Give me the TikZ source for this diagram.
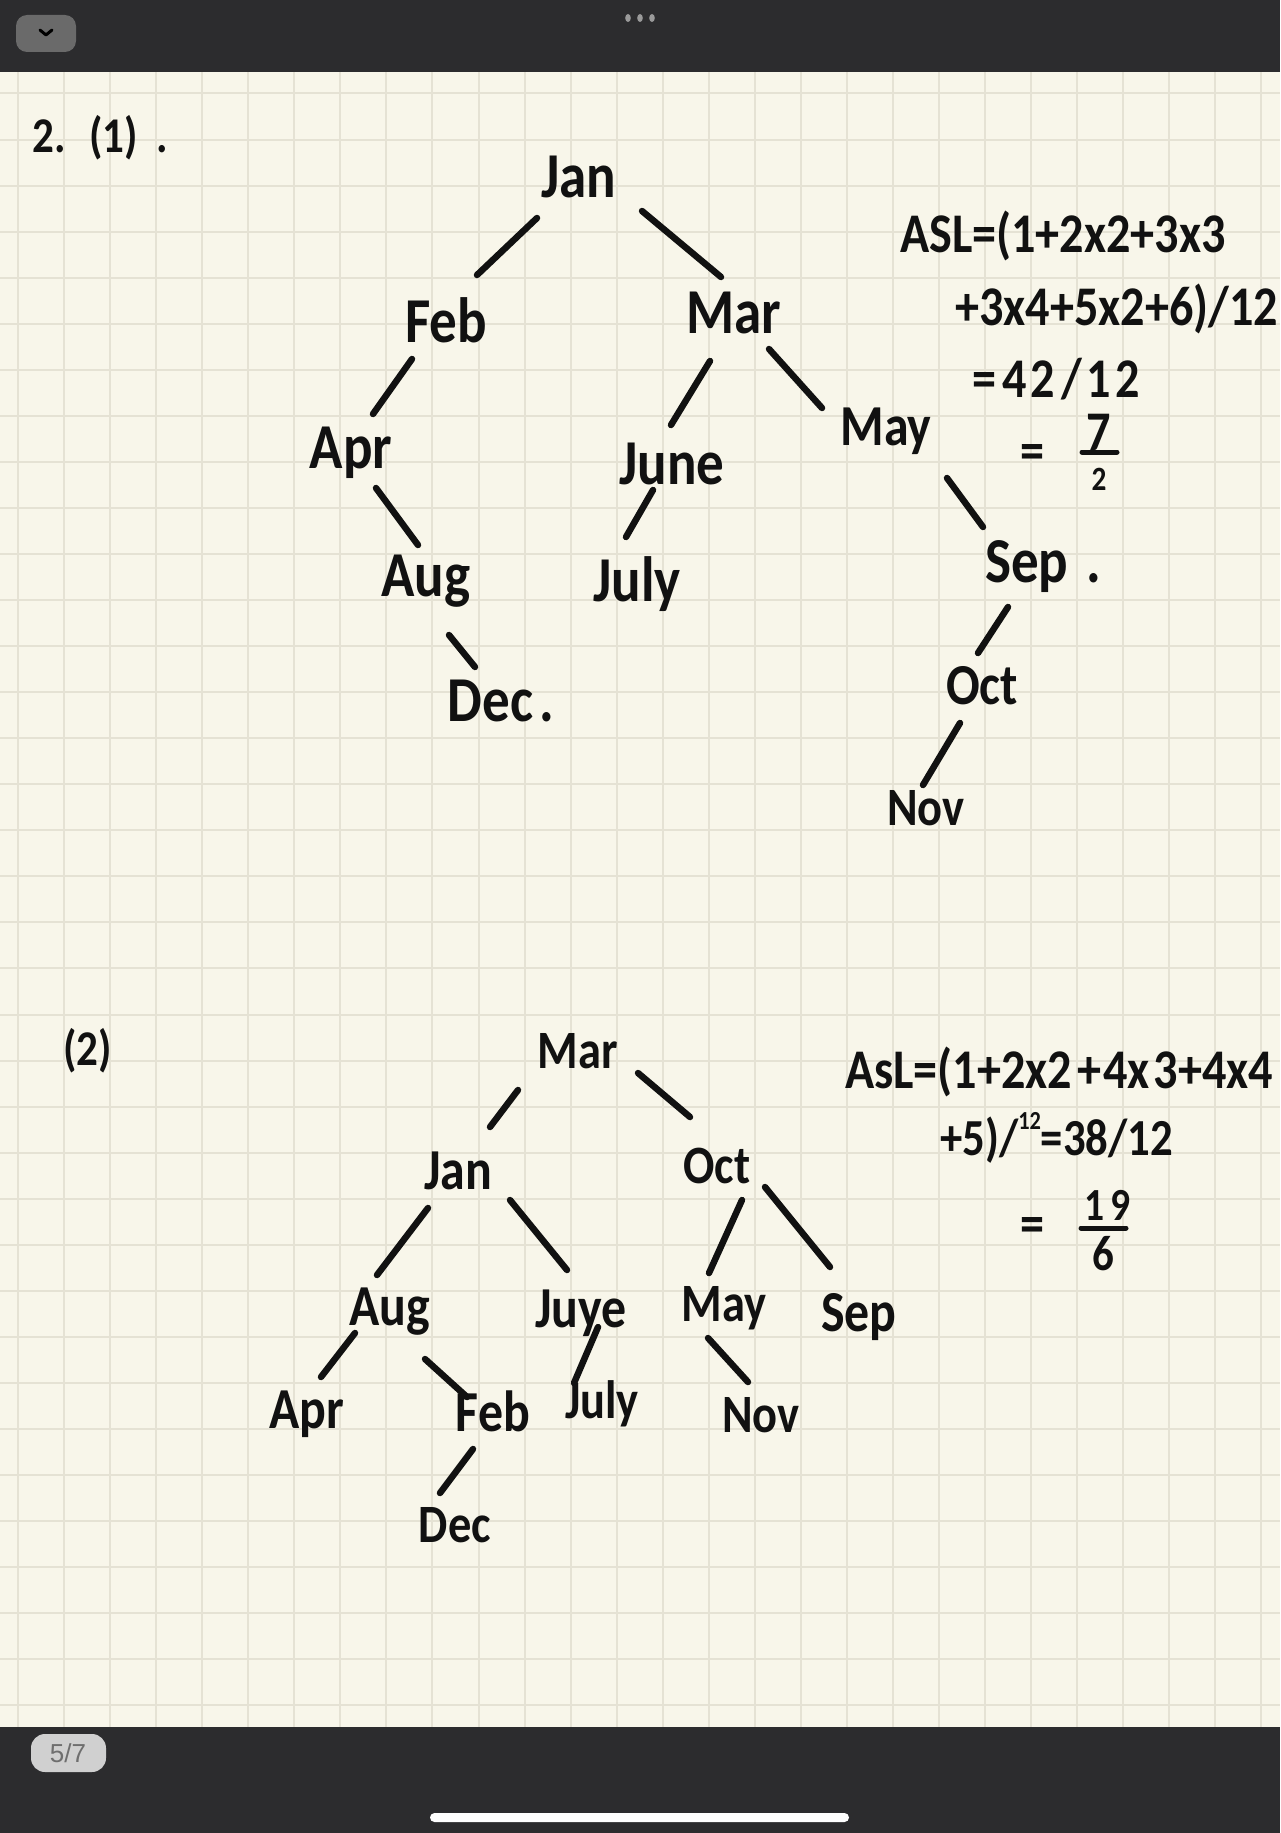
\documentclass[tikz,border=0pt]{standalone}
\usepackage{fontspec}
\usepackage{graphicx}
\usetikzlibrary{calc}
\newfontfamily\hwfont{Carlito}[FakeStretch=0.86]
\newfontfamily\uifont{Liberation Sans}
\definecolor{paper}{HTML}{F8F6EA}
\definecolor{gridc}{HTML}{E5E2D4}
\definecolor{barc}{HTML}{2C2C2E}
\definecolor{btnc}{HTML}{6A6A6A}
\definecolor{dotc}{HTML}{9A9A9A}
\definecolor{pillc}{HTML}{D0D0D0}
\definecolor{pilltext}{HTML}{6E6E6E}
\definecolor{ink}{HTML}{111111}
\tikzset{
  gridline/.style={draw=gridc, line width=2pt},
  lab/.style={anchor=base, inner sep=0pt, text=ink, font=\hwfont\bfseries\fontsize{64}{64}\selectfont},
  labb/.style={anchor=base, inner sep=0pt, text=ink, font=\hwfont\bfseries\fontsize{58}{58}\selectfont},
  labs/.style={anchor=base, inner sep=0pt, text=ink, font=\hwfont\bfseries\fontsize{54}{54}\selectfont},
  asl/.style={anchor=base west, inner sep=0pt, text=ink, font=\hwfont\bfseries\fontsize{56}{56}\selectfont},
  edge/.style={draw=ink, line width=6.5pt, line cap=round},
}
\newcommand{\edg}[4]{\draw[edge] ($(#1.base)+(#2)$) -- ($(#3.base)+(#4)$);}
\begin{document}
\begin{tikzpicture}[x=1pt,y=-1pt]
\useasboundingbox (0,0) rectangle (1280,1833);
\fill[paper] (0,0) rectangle (1280,1833);
\foreach \i in {0,...,27} \draw[gridline] ({18+46.05*\i},72) -- ({18+46.05*\i},1727);
\foreach \i in {0,...,35} \draw[gridline] (0,{93.5+46.05*\i}) -- (1280,{93.5+46.05*\i});
% top and bottom bars
\fill[barc] (0,0) rectangle (1280,72);
\fill[barc] (0,1727) rectangle (1280,1833);
\fill[btnc, rounded corners=11pt] (16,15) rectangle (76,52);
\draw[black, line width=3pt, line cap=round, line join=round] (40,30) -- (46,35) -- (52,30);
\foreach \x in {628,640,652} \fill[dotc] (\x,18) ellipse (2.8 and 4);
\fill[pillc, rounded corners=14pt] (31,1734) rectangle (106,1772);
\node[text=pilltext, font=\uifont\fontsize{26}{26}\selectfont, inner sep=0pt] (pagenum) at (68,1753) {5/7};
\fill[white, rounded corners=4.5pt] (430,1813) rectangle (849,1822);

% ---------- part (1) ----------
\node[asl, font=\hwfont\bfseries\fontsize{50}{50}\selectfont] (title1) at (32,153) {2.\hspace{24pt}(1)\hspace{18pt}.};
\node[lab] (jan) at (579,197) {Jan};
\node[lab] (feb) at (446,342) {Feb};
\node[lab] (mar) at (734,333) {Mar};
\node[lab] (apr) at (351,468) {Apr};
\node[lab] (june) at (672,484) {June};
\node[labb] (may) at (886,445) {May};
\node[lab] (aug) at (426,596) {Aug};
\node[lab] (july) at (637,601) {July};
\node[lab] (sep) at (1043,582) {Sep\hspace{18pt}.};
\node[lab] (dec) at (501,721) {Dec\hspace{6pt}.};
\node[labb] (oct) at (982,704) {Oct};
\node[labs] (nov) at (926,825) {Nov};

\edg{jan}{-42,21}{feb}{31,-67}
\edg{jan}{63,14}{mar}{-13,-56}
\edg{feb}{-34,17}{apr}{22,-54}
\edg{mar}{-24,28}{june}{-1,-59}
\edg{mar}{35,16}{may}{-64,-37}
\edg{apr}{25,20}{aug}{-8,-51}
\edg{june}{-19,6}{july}{-11,-64}
\edg{may}{61,33}{sep}{-60,-55}
\edg{aug}{23,39}{dec}{-26,-54}
\edg{sep}{-35,25}{oct}{-4,-51}
\edg{oct}{-22,19}{nov}{-3,-40}

\node[asl] (asl1a) at (900,252) {ASL=(1+2x2+3x3};
\node[asl] (asl1b) at (955,325) {+3x4+5x2+6)/12};
\node[asl] (asl1c) at (972,397) {=\kern6pt4\kern4pt2\kern6pt/\kern5pt1\kern4pt2};
\node[asl, anchor=center] (asl1eq) at (1032,457) {=};
\node[asl, anchor=base] (asl1num) at (1099,450) {7};
\node[asl, anchor=base, font=\hwfont\bfseries\fontsize{34}{34}\selectfont] (asl1den) at (1099,490) {2};
\draw[edge, line width=5pt] ($(asl1num.base)+(-17,2)$) -- ($(asl1num.base)+(18,2)$);

% ---------- part (2) ----------
\node[asl, font=\hwfont\bfseries\fontsize{50}{50}\selectfont] (title2) at (63,1065) {(2)};
\node[labs] (mar2) at (578,1068) {Mar};
\node[labb] (jan2) at (458,1189) {Jan};
\node[labs] (oct2) at (717,1183) {Oct};
\node[labb] (aug2) at (390,1325) {Aug};
\node[labb] (june2) at (581,1327) {Juye};
\node[labs] (may2) at (724,1321) {May};
\node[labb] (sep2) at (859,1331) {Sep};
\node[labb] (apr2) at (307,1428) {Apr};
\node[labb] (feb2) at (493,1431) {Feb};
\node[labs] (july2) at (602,1418) {July};
\node[labs] (nov2) at (761,1432) {Nov};
\node[labs] (dec2) at (455,1542) {Dec};

\edg{mar2}{-60,22}{jan2}{32,-62}
\edg{mar2}{60,5}{oct2}{-27,-66}
\edg{jan2}{-30,19}{aug2}{-13,-50}
\edg{jan2}{52,11}{june2}{-14,-57}
\edg{oct2}{25,17}{may2}{-15,-48}
\edg{oct2}{48,4}{sep2}{-29,-64}
\edg{aug2}{-35,8}{apr2}{14,-51}
\edg{aug2}{35,34}{feb2}{-26,-34}
\edg{june2}{17,0}{july2}{-28,-35}
\edg{may2}{-16,17}{nov2}{-13,-50}
\edg{feb2}{-20,18}{dec2}{-15,-49}

\node[asl] (asl2a) at (845,1088) {AsL=(1+2x2\kern5pt+\kern2pt4x\kern4pt3+4x4};
\node[asl, font=\hwfont\bfseries\fontsize{52}{52}\selectfont] (asl2b) at (940,1155) {+5)/\raisebox{0.5em}{\fontsize{26}{26}\selectfont 12}=38/12};
\node[asl, anchor=center] (asl2eq) at (1032,1230) {=};
\node[asl, anchor=base, font=\hwfont\bfseries\fontsize{46}{46}\selectfont] (asl2num) at (1108,1220) {1\kern6pt9};
\node[asl, anchor=base, font=\hwfont\bfseries\fontsize{50}{50}\selectfont] (asl2den) at (1103,1270) {6};
\draw[edge, line width=5pt] ($(asl2num.base)+(-27,8)$) -- ($(asl2num.base)+(18,8)$);
\end{tikzpicture}
\end{document}
